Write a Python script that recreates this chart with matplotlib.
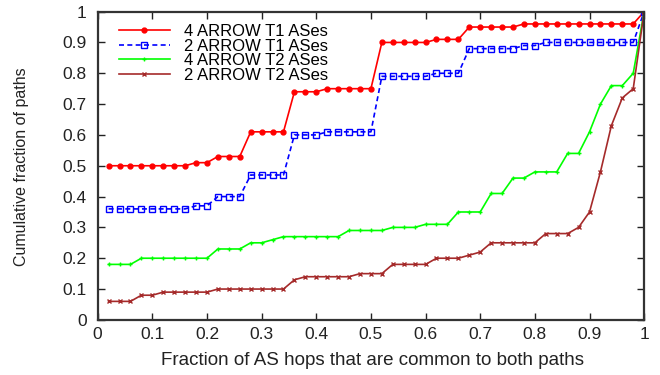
import numpy as np
import matplotlib
matplotlib.use("Agg")
import matplotlib.pyplot as plt

plt.rcParams['font.family'] = ['Liberation Sans', 'DejaVu Sans']

x = np.round(np.arange(1, 51) * 0.02, 2)

t1_4 = [0.50, 0.50, 0.50, 0.50, 0.50, 0.50, 0.50, 0.50, 0.51, 0.51,
        0.53, 0.53, 0.53, 0.61, 0.61, 0.61, 0.61, 0.74, 0.74, 0.74,
        0.75, 0.75, 0.75, 0.75, 0.75, 0.90, 0.90, 0.90, 0.90, 0.90,
        0.91, 0.91, 0.91, 0.95, 0.95, 0.95, 0.95, 0.95, 0.96, 0.96,
        0.96, 0.96, 0.96, 0.96, 0.96, 0.96, 0.96, 0.96, 0.96, 1.00]
t1_2 = [0.36, 0.36, 0.36, 0.36, 0.36, 0.36, 0.36, 0.36, 0.37, 0.37,
        0.40, 0.40, 0.40, 0.47, 0.47, 0.47, 0.47, 0.60, 0.60, 0.60,
        0.61, 0.61, 0.61, 0.61, 0.61, 0.79, 0.79, 0.79, 0.79, 0.79,
        0.80, 0.80, 0.80, 0.88, 0.88, 0.88, 0.88, 0.88, 0.89, 0.89,
        0.90, 0.90, 0.90, 0.90, 0.90, 0.90, 0.90, 0.90, 0.90, 1.00]
t2_4 = [0.18, 0.18, 0.18, 0.20, 0.20, 0.20, 0.20, 0.20, 0.20, 0.20,
        0.23, 0.23, 0.23, 0.25, 0.25, 0.26, 0.27, 0.27, 0.27, 0.27,
        0.27, 0.27, 0.29, 0.29, 0.29, 0.29, 0.30, 0.30, 0.30, 0.31,
        0.31, 0.31, 0.35, 0.35, 0.35, 0.41, 0.41, 0.46, 0.46, 0.48,
        0.48, 0.48, 0.54, 0.54, 0.61, 0.70, 0.76, 0.76, 0.80, 1.00]
t2_2 = [0.06, 0.06, 0.06, 0.08, 0.08, 0.09, 0.09, 0.09, 0.09, 0.09,
        0.10, 0.10, 0.10, 0.10, 0.10, 0.10, 0.10, 0.13, 0.14, 0.14,
        0.14, 0.14, 0.14, 0.15, 0.15, 0.15, 0.18, 0.18, 0.18, 0.18,
        0.20, 0.20, 0.20, 0.21, 0.22, 0.25, 0.25, 0.25, 0.25, 0.25,
        0.28, 0.28, 0.28, 0.30, 0.35, 0.48, 0.63, 0.72, 0.75, 1.00]

labels = ["4 ARROW T1 ASes", "2 ARROW T1 ASes", "4 ARROW T2 ASes", "2 ARROW T2 ASes"]
ticks = np.round(np.arange(0, 1.01, 0.1), 1)
tick_text = ['0'] + ['%.1f' % v for v in ticks[1:-1]] + ['1']

fig = plt.figure(figsize=(6.6, 3.75), dpi=100)
ax = fig.add_axes([0.148, 0.147, 0.828, 0.822])

ax.plot(x, t1_4, color='#ff0000', lw=1.2, marker='o', ms=3.5, label=labels[0])
ax.plot(x, t1_2, color='#0000ff', lw=1.2, ls=(0, (3, 2)), marker='s', ms=4.5,
        mfc='none', mew=1.0, label=labels[1])
ax.plot(x, t2_4, color='#00ff00', lw=1.2, marker='+', ms=3.5, mew=1.0, label=labels[2])
ax.plot(x, t2_2, color='#a52a2a', lw=1.2, marker='x', ms=3, mew=1.0, label=labels[3])

ax.set_xlim(0, 1)
ax.set_ylim(0, 1)
ax.set_xticks(ticks)
ax.set_yticks(ticks)
ax.set_xticklabels(tick_text)
ax.set_yticklabels(tick_text)
ax.tick_params(direction='in', top=True, right=True, length=5, width=1,
               labelsize=12.5, colors='#222222')
ax.tick_params(axis='x', pad=5)
ax.tick_params(axis='y', pad=8)
for s in ax.spines.values():
    s.set_linewidth(1.6)
    s.set_color('#333333')

ax.set_xlabel("Fraction of AS hops that are common to both paths", fontsize=13.5,
              color='#222222')
ax.set_ylabel("Cumulative fraction of paths", fontsize=11.5, color='#222222',
              va='center')
ax.xaxis.set_label_coords(0.502, -0.105)
ax.yaxis.set_label_coords(-0.14, 0.498)

ax.legend(loc='upper left', frameon=False, fontsize=12, handlelength=3.05,
          handletextpad=0.85, labelspacing=-0.03, borderaxespad=0.0,
          borderpad=0.3, bbox_to_anchor=(0.03, 0.975))

fig.savefig("out.png", dpi=100)
